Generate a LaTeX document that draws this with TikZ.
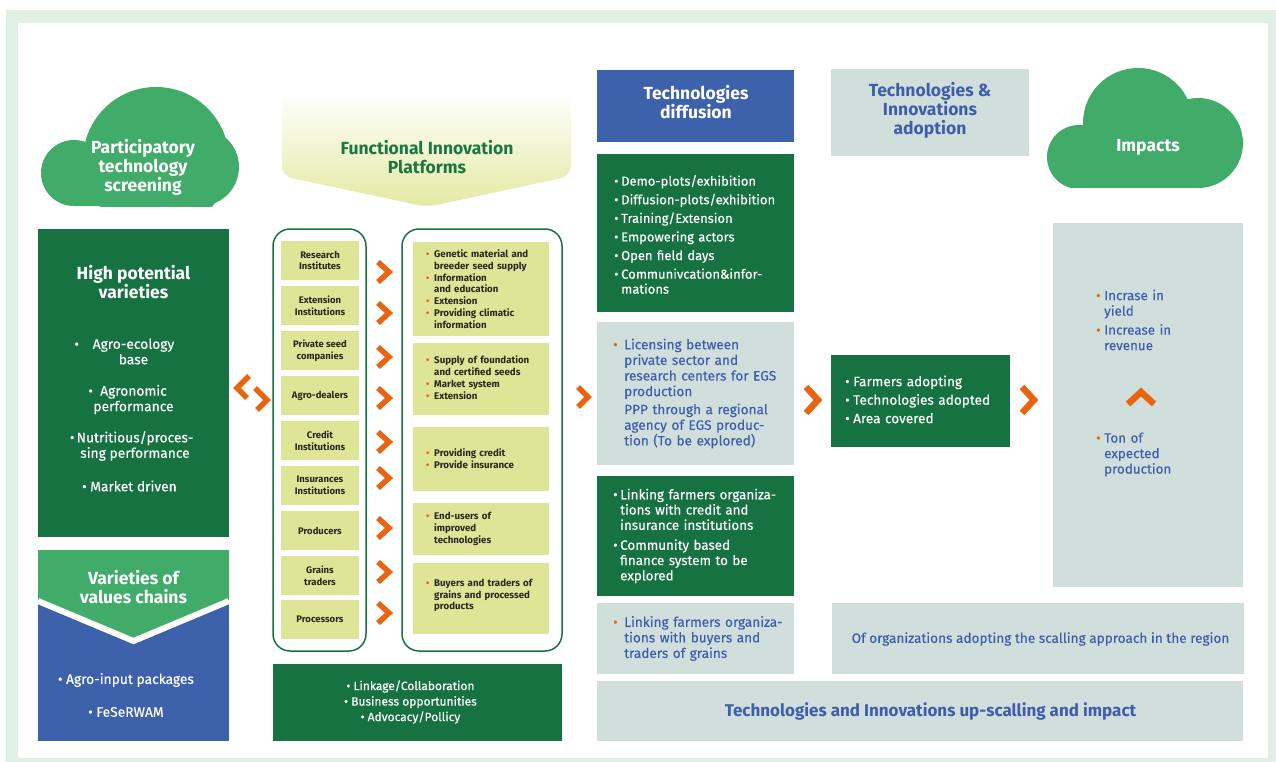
\documentclass[tikz,border=0pt]{standalone}
\usepackage{fontspec}
\setmainfont{Fira Sans}[UprightFeatures={FakeBold=0.3}]
\usepackage{tikz}
\usetikzlibrary{positioning}

\definecolor{dgreen}{RGB}{23,114,66}
\definecolor{lgreen}{RGB}{65,172,105}
\definecolor{vblue}{RGB}{62,97,171}
\definecolor{pale}{RGB}{209,223,220}
\definecolor{lime}{RGB}{222,229,150}
\definecolor{limes}{RGB}{227,234,162}
\definecolor{orng}{RGB}{232,100,16}
\definecolor{tblue}{RGB}{62,94,172}
\definecolor{frame}{RGB}{225,240,229}
\definecolor{ftxt}{RGB}{28,118,66}
\definecolor{ink}{RGB}{40,40,30}

\newlength\itmw
\newcommand{\itm}[2]{\hangindent=\itmw\hangafter=1\makebox[\itmw][l]{\textcolor{#1}{\textbullet}}#2\par}
\newcommand{\noitm}[1]{\hangindent=\itmw\hangafter=0 #1\par}

\begin{document}
\begin{tikzpicture}[x=1pt,y=-1pt,
        box/.style={anchor=north west,inner sep=0pt,outer sep=0pt},
        ttl/.style={font=\bfseries\fontsize{17.5}{19}\selectfont,align=center,inner sep=0pt},
        ctr/.style={text=white,font=\fontsize{13.8}{15.5}\selectfont,align=center,inner sep=0pt},
        lst/.style={anchor=west,inner sep=0pt,align=left},
        chev/.style={draw=orng,line width=5.5pt,line join=miter},
        actor/.style={box,fill=lime,minimum width=78pt,minimum height=39pt,align=center,
                      text=ink,font=\bfseries\fontsize{9.5}{11.5}\selectfont},
        role/.style={box,fill=lime,minimum width=136pt},
        plst/.style={lst,text=ink,text width=124pt,font=\bfseries\fontsize{9.7}{11.8}\selectfont,
                     execute at begin node={\setlength\itmw{8pt}}},
        wlst/.style={lst,text=white,text width=176pt,font=\fontsize{13}{15}\selectfont,
                     execute at begin node={\setlength\itmw{7pt}\setlength\parskip{3.6pt}}},
        flst/.style={lst,text=white,text width=176pt,font=\fontsize{13.4}{15.3}\selectfont,
                     execute at begin node={\setlength\itmw{7pt}\setlength\parskip{4.6pt}}},
        blst/.style={lst,text=tblue,text width=178pt,font=\fontsize{13.6}{15.6}\selectfont,
                     execute at begin node={\setlength\itmw{11pt}\setlength\parskip{2.5pt}}},
        glst/.style={lst,text=white,text width=162pt,font=\fontsize{13.6}{18.5}\selectfont,
                     execute at begin node={\setlength\itmw{8pt}}},
        ilst/.style={lst,text=tblue,text width=140pt,font=\fontsize{13.4}{15.5}\selectfont,
                     execute at begin node={\setlength\itmw{8pt}\setlength\parskip{3.5pt}}}]

        \useasboundingbox (0,0) rectangle (1276,762);
        \fill[frame] (6,10) rectangle (1276,762);
        \fill[white] (18,23) rectangle (1268,758);

        % screening cloud
        \begin{scope}
                \clip (0,0) rectangle (300,206);
                \fill[lgreen] (156,160) circle (73pt) (74,173) circle (33pt) (200,167) circle (39pt)
                              (74,170) rectangle (200,206);
        \end{scope}
        \node[ttl,text=white] (pts) at (143,167) {Participatory\\technology\\screening};

        \node[box,fill=dgreen,minimum width=191pt,minimum height=308pt] (hpv) at (38,229) {};
        \node[ttl,text=white] (hpvt) at (133.5,282.5) {High potential\\varieties};
        \node[ctr] (hpv1) at (133.5,351.5) {\llap{\textbullet\quad}Agro-ecology\\base};
        \node[ctr] (hpv2) at (133.5,399.5) {\llap{\textbullet\ \ }Agronomic\\performance};
        \node[ctr] (hpv3) at (135,446) {\llap{\textbullet\,}Nutritious/proces-\\sing performance};
        \node[ctr] (hpv4) at (133.5,486) {\llap{\textbullet\ }Market driven};

        \node[box,fill=vblue,minimum width=191pt,minimum height=191pt] (vvc) at (38,550) {};
        \fill[lgreen] (38,550) -- (229,550) -- (229,598) -- (133.5,638) -- (38,598) -- cycle;
        \draw[white,line width=6pt] (38,601) -- (133.5,641) -- (229,601);
        \node[ttl,text=white] (vvct) at (133.5,587.5) {Varieties of\\values chains};
        \node[ctr] (vvc1) at (130,680) {\llap{\textbullet\ }Agro-input packages};
        \node[ctr] (vvc2) at (130,712) {\llap{\textbullet\ }FeSeRWAM};

        % two way arrow
        \draw[chev] (249,376) -- (237,388) -- (247,398);
        \draw[chev] (255,388) -- (267,400) -- (257,410);

        % platforms
        \shade[top color=white,bottom color=limes,rounded corners=10pt]
                (282,92) -- (282,176) -- (427,207) -- (571,176) -- (571,92) -- cycle;
        \node[ttl,text=ftxt] (fipt) at (427,157.5) {Functional Innovation\\Platforms};

        \node[box,draw=dgreen,line width=1.5pt,rounded corners=17pt,minimum width=93pt,minimum height=422pt] (actors) at (273,229) {};
        \node[box,draw=dgreen,line width=1.5pt,rounded corners=17pt,minimum width=160pt,minimum height=422pt] (roles) at (402,229) {};

        \foreach \y/\n/\t in {241/ri/{Research\\Institutes},286/ei/{Extension\\Institutions},
                              331/ps/{Private seed\\companies},376/ad/{Agro-dealers},
                              421/ci/{Credit\\Institutions},466/ii/{Insurances\\Institutions},
                              511/pr/{Producers},556/gt/{Grains\\traders},600/pc/{Processors}}
                \node[actor] (\n) at (281,\y) {\t};

        \foreach \y in {272,313,357,398,442,478,528,572,613}
                \draw[chev] (378,\y-10) -- ++(11,10) -- ++(-11,10);

        \node[role,minimum height=94pt] (rb1) at (413,242) {};
        \node[role,minimum height=72pt] (rb2) at (413,343) {};
        \node[role,minimum height=64pt] (rb3) at (413,427) {};
        \node[role,minimum height=52pt] (rb4) at (413,503) {};
        \node[role,minimum height=71pt] (rb5) at (413,563) {};

        \node[plst] (rb1t) at ([xshift=13pt]rb1.west) {\itm{orng}{Genetic material and\newline breeder seed supply}\itm{orng}{Information\newline and education}\itm{orng}{Extension}\itm{orng}{Providing climatic\newline information}};
        \node[plst] (rb2t) at ([xshift=13pt,yshift=1.5pt]rb2.west) {\itm{orng}{Supply of foundation\newline and certified seeds}\itm{orng}{Market system}\itm{orng}{Extension}};
        \node[plst] (rb3t) at ([xshift=13pt]rb3.west) {\itm{orng}{Providing credit}\itm{orng}{Provide insurance}};
        \node[plst] (rb4t) at ([xshift=13pt]rb4.west) {\itm{orng}{End-users of\newline improved\newline technologies}};
        \node[plst] (rb5t) at ([xshift=13pt,yshift=3pt]rb5.west) {\itm{orng}{Buyers and traders of\newline grains and processed\newline products}};

        \node[box,fill=dgreen,minimum width=289pt,minimum height=77pt] (link) at (273,664) {};
        \node[ctr,font=\fontsize{12}{15.5}\selectfont] (linkt) at (414,702) {\llap{\textbullet\ }Linkage/Collaboration\\\llap{\textbullet\ }Business opportunities\\\llap{\textbullet\ }Advocacy/Pollicy};

        \draw[chev] (578,387) -- ++(10,10) -- ++(-10,10);

        % diffusion column
        \node[box,fill=vblue,minimum width=197pt,minimum height=72pt] (tdif) at (597,70) {};
        \node[ttl,text=white] (tdift) at (696,102.5) {Technologies\\diffusion};

        \node[box,fill=dgreen,minimum width=197pt,minimum height=158pt] (tdl) at (597,154) {};
        \node[wlst] (tdlt) at ([xshift=17pt,yshift=-1.5pt]tdl.west) {\itm{white}{Demo-plots/exhibition}\itm{white}{Diffusion-plots/exhibition}\itm{white}{Training/Extension}\itm{white}{Empowering actors}\itm{white}{Open field days}\itm{white}{Communivcation\&infor-\newline mations}};

        \node[box,fill=pale,minimum width=197pt,minimum height=143pt] (lic) at (597,322) {};
        \node[blst] (lict) at ([xshift=16pt]lic.west) {\itm{orng}{Licensing between\newline private sector and\newline research centers for EGS\newline production}\noitm{PPP through a regional\newline agency of EGS produc-\newline tion (To be explored)}};

        \node[box,fill=dgreen,minimum width=197pt,minimum height=120pt] (fin) at (597,476) {};
        \node[flst] (fint) at ([xshift=16pt]fin.west) {\itm{white}{Linking farmers organiza-\newline tions with credit and\newline insurance institutions}\itm{white}{Community based\newline finance system to be\newline explored}};

        \node[box,fill=pale,minimum width=197pt,minimum height=71pt] (buy) at (597,603) {};
        \node[blst] (buyt) at ([xshift=16pt]buy.west) {\itm{orng}{Linking farmers organiza-\newline tions with buyers and\newline traders of grains}};

        \node[box,fill=pale,minimum width=646pt,minimum height=60pt] (ups) at (597,681) {};
        \node[ttl,text=tblue,font=\bfseries\fontsize{17}{19}\selectfont] (upst) at (930.5,711) {Technologies and Innovations up-scalling and impact};

        \draw[chev,line width=6.5pt] (806,387) -- ++(12,13) -- ++(-12,13);

        % adoption column
        \node[box,fill=pale,minimum width=198pt,minimum height=87pt] (adop) at (831,69) {};
        \node[ttl,text=tblue] (adopt) at (930,110) {Technologies \&\\Innovations\\adoption};

        \node[box,fill=dgreen,minimum width=179pt,minimum height=92pt] (farm) at (831,355) {};
        \node[glst] (farmt) at ([xshift=14pt,yshift=1.5pt]farm.west) {\itm{white}{Farmers adopting}\itm{white}{Technologies adopted}\itm{white}{Area covered}};

        \node[box,fill=pale,minimum width=412pt,minimum height=71pt] (orgs) at (832,603) {};
        \node[ctr,text=tblue,font=\fontsize{13.6}{15.5}\selectfont] (orgst) at (1040.5,639) {Of organizations adopting the scalling approach in the region};

        \draw[chev,line width=6.5pt] (1022,387) -- ++(12,13) -- ++(-12,13);

        % impacts cloud
        \begin{scope}
                \clip (1000,0) rectangle (1276,188);
                \fill[lgreen] (1138,123) circle (55pt) (1079,157) circle (32pt) (1198,143) circle (45pt)
                              (1079,150) rectangle (1198,188);
        \end{scope}
        \node[ttl,text=white] (impt) at (1148,147) {Impacts};

        \node[box,fill=pale,minimum width=190pt,minimum height=364pt] (imp) at (1053,223) {};
        \node[ilst] (impa) at (1096,320) {\itm{orng}{Incrase in\newline yield}\itm{orng}{Increase in\newline revenue}};
        \draw[chev,line width=6.5pt] (1128,404) -- ++(13,-12) -- ++(13,12);
        \node[ilst] (impb) at (1096,454.5) {\itm{orng}{Ton of\newline expected\newline production}};
\end{tikzpicture}
\end{document}
